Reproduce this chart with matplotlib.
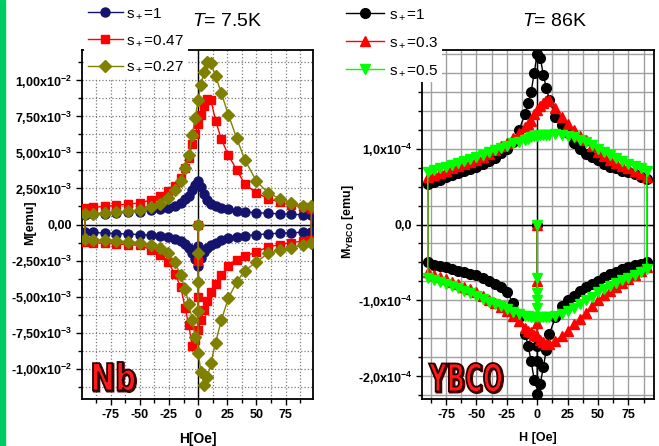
import numpy as np
import matplotlib
matplotlib.use("Agg")
import matplotlib.pyplot as plt
from matplotlib.ticker import MultipleLocator
from matplotlib.textpath import TextPath
from matplotlib.patches import PathPatch
from matplotlib.font_manager import FontProperties
from matplotlib.transforms import Affine2D, IdentityTransform

plt.rcParams['font.family'] = ['Liberation Sans', 'DejaVu Sans']
plt.rcParams['mathtext.fontset'] = 'custom'
plt.rcParams['mathtext.rm'] = 'Liberation Sans'
plt.rcParams['mathtext.it'] = 'Liberation Sans:italic'
plt.rcParams['mathtext.bf'] = 'Liberation Sans:bold'
plt.rcParams['mathtext.default'] = 'regular'

# ---- Nb panel, T = 7.5K (field in Oe, M in emu) ----
H_nb = [-97, -90, -80, -70, -60, -50, -40, -33, -26, -20, -15, -11, -8, -5, -2.5, 0,
        2.5, 5, 8, 11, 15, 20, 26, 33, 40, 50, 60, 70, 80, 90, 97]

nb1_up = [6.5e-4, 7.0e-4, 7.5e-4, 8.0e-4, 8.5e-4, 9.0e-4, 1.0e-3, 1.05e-3, 1.15e-3, 1.3e-3,
          1.5e-3, 1.75e-3, 2.0e-3, 2.4e-3, 2.75e-3, 3.05e-3, 2.6e-3, 2.1e-3, 1.7e-3, 1.45e-3,
          1.3e-3, 1.15e-3, 1.05e-3, 9.5e-4, 8.8e-4, 8.2e-4, 7.8e-4, 7.4e-4, 7.0e-4, 6.8e-4, 6.5e-4]
nb1_dn = [-5.3e-4, -5.5e-4, -6.0e-4, -6.3e-4, -6.6e-4, -7.0e-4, -7.5e-4, -8.0e-4, -8.8e-4, -1.0e-3,
          -1.15e-3, -1.35e-3, -1.6e-3, -1.95e-3, -2.4e-3, -2.9e-3, -2.3e-3, -1.9e-3, -1.6e-3, -1.4e-3,
          -1.25e-3, -1.1e-3, -9.5e-4, -8.5e-4, -7.8e-4, -7.0e-4, -6.5e-4, -6.0e-4, -5.7e-4, -5.4e-4, -5.2e-4]
nb1_virgin = [0, -1.5e-3]

nb2_up = [1.15e-3, 1.2e-3, 1.25e-3, 1.35e-3, 1.4e-3, 1.5e-3, 1.7e-3, 1.95e-3, 2.3e-3, 2.7e-3,
          3.2e-3, 3.9e-3, 4.6e-3, 5.6e-3, 6.3e-3, 7.0e-3, 7.6e-3, 8.2e-3, 8.7e-3, 8.6e-3,
          7.2e-3, 5.9e-3, 4.8e-3, 3.8e-3, 2.8e-3, 2.2e-3, 1.8e-3, 1.55e-3, 1.35e-3, 1.2e-3, 1.1e-3]
nb2_dn = [-1.2e-3, -1.25e-3, -1.3e-3, -1.35e-3, -1.4e-3, -1.45e-3, -1.75e-3, -2.1e-3, -2.6e-3, -3.4e-3,
          -4.3e-3, -5.8e-3, -7.0e-3, -8.4e-3, -8.0e-3, -7.3e-3, -6.6e-3, -5.9e-3, -5.3e-3, -4.7e-3,
          -4.1e-3, -3.5e-3, -2.9e-3, -2.45e-3, -2.2e-3, -1.9e-3, -1.55e-3, -1.4e-3, -1.25e-3, -1.15e-3, -1.1e-3]
nb2_virgin = [0, -2.5e-3, -5.0e-3]

nb3_up = [7.4e-4, 7.6e-4, 7.8e-4, 8.5e-4, 9.2e-4, 1.0e-3, 1.2e-3, 1.45e-3, 1.85e-3, 2.4e-3,
          3.0e-3, 3.9e-3, 4.8e-3, 6.2e-3, 7.4e-3, 8.6e-3, 9.7e-3, 1.06e-2, 1.13e-2, 1.12e-2,
          1.03e-2, 9.1e-3, 7.6e-3, 6.0e-3, 4.5e-3, 3.0e-3, 2.2e-3, 1.8e-3, 1.5e-3, 1.3e-3, 1.25e-3]
nb3_dn = [-1.0e-3, -1.05e-3, -1.1e-3, -1.15e-3, -1.2e-3, -1.25e-3, -1.4e-3, -1.65e-3, -2.0e-3, -2.6e-3,
          -3.5e-3, -4.5e-3, -5.5e-3, -6.6e-3, -7.8e-3, -8.9e-3, -1.02e-2, -1.11e-2, -1.06e-2, -9.6e-3,
          -8.2e-3, -6.6e-3, -5.1e-3, -4.0e-3, -3.2e-3, -2.6e-3, -2.0e-3, -1.8e-3, -1.6e-3, -1.4e-3, -1.3e-3]
nb3_virgin = [0, -2e-3, -4e-3, -6e-3]

nb_labels = ['s$_+$=1', 's$_+$=0.47', 's$_+$=0.27']

# ---- YBCO panel, T = 86K (M in units of 1e-4 emu) ----
H_y = [-90, -85, -80, -75, -70, -65, -60, -55, -50, -45, -40, -35, -30, -25, -20, -15, -10,
       -7.5, -5, -2.5, 0, 2.5, 5, 7.5, 10, 15, 20, 25, 30, 35, 40, 45, 50, 55, 60, 65, 70, 75,
       80, 85, 90]

y1_up = [0.53, 0.56, 0.59, 0.625, 0.65, 0.68, 0.71, 0.735, 0.76, 0.80, 0.84, 0.88, 0.94, 1.0,
         1.09, 1.24, 1.46, 1.6, 1.75, 2.0, 2.25, 2.2, 1.97, 1.8, 1.64, 1.42, 1.31, 1.21, 1.07,
         1.0, 0.93, 0.89, 0.85, 0.80, 0.76, 0.74, 0.71, 0.69, 0.66, 0.63, 0.60]
y1_dn = [-0.50, -0.53, -0.55, -0.56, -0.58, -0.61, -0.63, -0.65, -0.67, -0.70, -0.74, -0.78,
         -0.83, -0.89, -1.03, -1.22, -1.44, -1.6, -1.80, -2.05, -2.24, -2.1, -1.88, -1.65, -1.44,
         -1.22, -1.08, -1.0, -0.94, -0.88, -0.83, -0.78, -0.74, -0.69, -0.65, -0.62, -0.59, -0.56,
         -0.54, -0.52, -0.50]
y1_virgin = [0, -1.6, -1.8]

y2_up = [0.62, 0.65, 0.68, 0.71, 0.74, 0.77, 0.80, 0.82, 0.85, 0.89, 0.93, 0.98, 1.03, 1.07,
         1.14, 1.20, 1.29, 1.33, 1.37, 1.45, 1.51, 1.56, 1.60, 1.63, 1.64, 1.53, 1.42, 1.33, 1.24,
         1.17, 1.11, 1.03, 0.955, 0.90, 0.85, 0.81, 0.77, 0.74, 0.70, 0.66, 0.62]
y2_dn = [-0.62, -0.66, -0.69, -0.72, -0.76, -0.79, -0.82, -0.85, -0.89, -0.94, -0.99, -1.04,
         -1.09, -1.14, -1.20, -1.27, -1.36, -1.40, -1.42, -1.45, -1.47, -1.52, -1.55, -1.58, -1.58,
         -1.53, -1.47, -1.40, -1.31, -1.24, -1.16, -1.08, -1.0, -0.93, -0.87, -0.82, -0.77, -0.72,
         -0.67, -0.61, -0.56]
y2_virgin = [0, -0.75, -1.3]

y3_up = [0.69, 0.72, 0.74, 0.76, 0.79, 0.81, 0.84, 0.86, 0.89, 0.92, 0.95, 0.98, 1.01, 1.04,
         1.07, 1.09, 1.12, 1.13, 1.15, 1.16, 1.17, 1.175, 1.18, 1.18, 1.185, 1.19, 1.185, 1.17,
         1.15, 1.12, 1.09, 1.05, 1.0, 0.96, 0.91, 0.87, 0.84, 0.80, 0.77, 0.74, 0.71]
y3_dn = [-0.71, -0.73, -0.76, -0.78, -0.81, -0.84, -0.87, -0.90, -0.94, -0.98, -1.02, -1.05,
         -1.08, -1.11, -1.15, -1.18, -1.20, -1.21, -1.22, -1.22, -1.22, -1.22, -1.22, -1.22, -1.22,
         -1.20, -1.18, -1.14, -1.10, -1.05, -1.0, -0.95, -0.89, -0.85, -0.81, -0.77, -0.73, -0.70,
         -0.66, -0.62, -0.59]
y3_virgin = [0, -0.7, -0.9, -1.0, -1.1]

y_labels = ['s$_+$=1', 's$_+$=0.3', 's$_+$=0.5']


def loop(H, up, dn, virgin):
    # virgin at H=0, lower branch up to +Hmax, upper branch back, lower branch from -Hmax
    H = np.array(H, dtype=float)
    up = np.array(up)
    dn = np.array(dn)
    pos = H >= 0
    neg = H < 0
    hx = np.concatenate([np.zeros(len(virgin)), H[pos], H[::-1], H[neg]])
    my = np.concatenate([virgin, dn[pos], up[::-1], dn[neg]])
    return hx, my


def sample_label(fig, txt, x0, y0, w, h):
    # red outlined letters squeezed into a box given in pixels (from bottom left)
    tp = TextPath((0, 0), txt, size=10, prop=FontProperties(family='DejaVu Sans', weight='bold'))
    ext = tp.get_extents()
    tr = Affine2D().translate(-ext.x0, -ext.y0).scale(w / ext.width, h / ext.height).translate(x0, y0)
    shadow = PathPatch(tr.transform_path(tp), fc='#550000', ec='#550000', lw=1.5,
                       transform=Affine2D().translate(1, -1) + IdentityTransform())
    patch = PathPatch(tr.transform_path(tp), fc='#ff1a1a', ec='#2a0000', lw=1.3,
                      transform=IdentityTransform())
    fig.patches.append(shadow)
    fig.patches.append(patch)


fig = plt.figure(figsize=(6.59, 4.46), dpi=100)
fig.patches.append(plt.Rectangle((0, 0), 5 / 659, 1, transform=fig.transFigure,
                                 color='#00cc66', zorder=0))

ax1 = fig.add_axes([82 / 659, 1 - 399 / 446, 231 / 659, 349 / 446])
ax2 = fig.add_axes([421.7 / 659, 1 - 399 / 446, 232.3 / 659, 349 / 446])

# Nb curves
nb_sets = [(nb1_up, nb1_dn, nb1_virgin, '#14146e', 'o', 6.5),
           (nb2_up, nb2_dn, nb2_virgin, '#ff0000', 's', 6),
           (nb3_up, nb3_dn, nb3_virgin, '#808000', 'D', 6.5)]
for (up, dn, vg, c, m, ms), lab in zip(nb_sets, nb_labels):
    hx, my = loop(H_nb, up, dn, vg)
    ax1.plot(hx, my, color=c, marker=m, ms=ms, mec=c, lw=1, label=lab, zorder=3)

# YBCO curves
y_sets = [(y1_up, y1_dn, y1_virgin, '#000000', 'o', 7),
          (y2_up, y2_dn, y2_virgin, '#ff0000', '^', 7.5),
          (y3_up, y3_dn, y3_virgin, '#00ff00', 'v', 7.5)]
for (up, dn, vg, c, m, ms), lab in zip(y_sets, y_labels):
    hx, my = loop(H_y, up, dn, vg)
    ax2.plot(hx, my, color=c, marker=m, ms=ms, mec=c, lw=1, label=lab, zorder=3)

# axes limits and ticks
ax1.set_xlim(-99.5, 98.5)
ax1.set_ylim(-0.0121, 0.0121)
ax2.set_xlim(-95, 96)
ax2.set_ylim(-2.3, 2.3)

nb_yt = [-1e-2, -7.5e-3, -5e-3, -2.5e-3, 0, 2.5e-3, 5e-3, 7.5e-3, 1e-2]
nb_ytl = ['-1,00x10$^{-2}$', '-7,50x10$^{-3}$', '-5,00x10$^{-3}$', '-2,50x10$^{-3}$', '0,00',
          '2,50x10$^{-3}$', '5,00x10$^{-3}$', '7,50x10$^{-3}$', '1,00x10$^{-2}$']
y_yt = [-2, -1, 0, 1, 2]
y_ytl = ['-2,0x10$^{-4}$', '-1,0x10$^{-4}$', '0,0', '1,0x10$^{-4}$', '']
xt = [-75, -50, -25, 0, 25, 50, 75]

ax1.set_yticks(nb_yt)
ax1.set_yticklabels(nb_ytl)
ax1.yaxis.set_minor_locator(MultipleLocator(1.25e-3))
ax2.set_yticks(y_yt)
ax2.set_yticklabels(y_ytl)
ax2.yaxis.set_minor_locator(MultipleLocator(0.25))

for ax in (ax1, ax2):
    ax.set_xticks(xt)
    ax.set_xticklabels([str(v) for v in xt])
    ax.xaxis.set_minor_locator(MultipleLocator(12.5))
    ax.tick_params(which='both', direction='out', labelsize=9, width=1)
    ax.tick_params(which='major', length=4, pad=3)
    ax.tick_params(which='minor', length=3)
    for t in ax.get_xticklabels() + ax.get_yticklabels():
        t.set_fontweight('bold')
    for s in ax.spines.values():
        s.set_linewidth(1.3)
    ax.axhline(0, color='black', lw=1, zorder=2)
    ax.axvline(0, color='black', lw=1, zorder=2)

ax1.grid(True, which='both', color='#7a7a7a', ls=':', lw=0.9, zorder=0)
ax2.grid(True, which='both', color='#a0a0a0', ls='-', lw=1.0, zorder=0)
ax1.set_axisbelow(True)
ax2.set_axisbelow(True)

ax1.set_xlabel('H[Oe]', fontsize=10, fontweight='bold', labelpad=8)
ax1.set_ylabel('M[emu]', fontsize=9, fontweight='bold')
ax1.yaxis.set_label_coords(-0.2, 0.505)
ax2.set_xlabel('H [Oe]', fontsize=9, fontweight='bold', labelpad=8)
ax2.set_ylabel('M$_{YBCO}$ [emu]', fontsize=9, fontweight='bold')
ax2.yaxis.set_label_coords(-0.283, 0.51)

fig.text(227 / 659, 1 - 22 / 446, r'$\mathit{T}$= 7.5K', fontsize=14, ha='center', va='center')
fig.text(555 / 659, 1 - 22 / 446, r'$\mathit{T}$= 86K', fontsize=14, ha='center', va='center')

# legends with white boxes over the top-left corners
leg1 = ax1.legend(loc='upper left', bbox_to_anchor=(84 / 659, 1 - 3 / 446), bbox_transform=fig.transFigure,
                  fontsize=11, handlelength=2.3, handletextpad=0.2, labelspacing=0.8,
                  borderpad=0.25, borderaxespad=0, frameon=True, fancybox=False)
leg2 = ax2.legend(loc='upper left', bbox_to_anchor=(342 / 659, 1 - 4 / 446), bbox_transform=fig.transFigure,
                  fontsize=11, handlelength=2.5, handletextpad=0.3, labelspacing=0.88,
                  borderpad=0.25, borderaxespad=0, frameon=True, fancybox=False)
for lg in (leg1, leg2):
    lg.get_frame().set_facecolor('white')
    lg.get_frame().set_edgecolor('none')
    lg.get_frame().set_alpha(1)

# sample names drawn as outlined red letters
sample_label(fig, 'Nb', 93, 55, 42, 29)
sample_label(fig, 'YBCO', 429, 54, 73, 29)

fig.savefig('out.png', dpi=100)
